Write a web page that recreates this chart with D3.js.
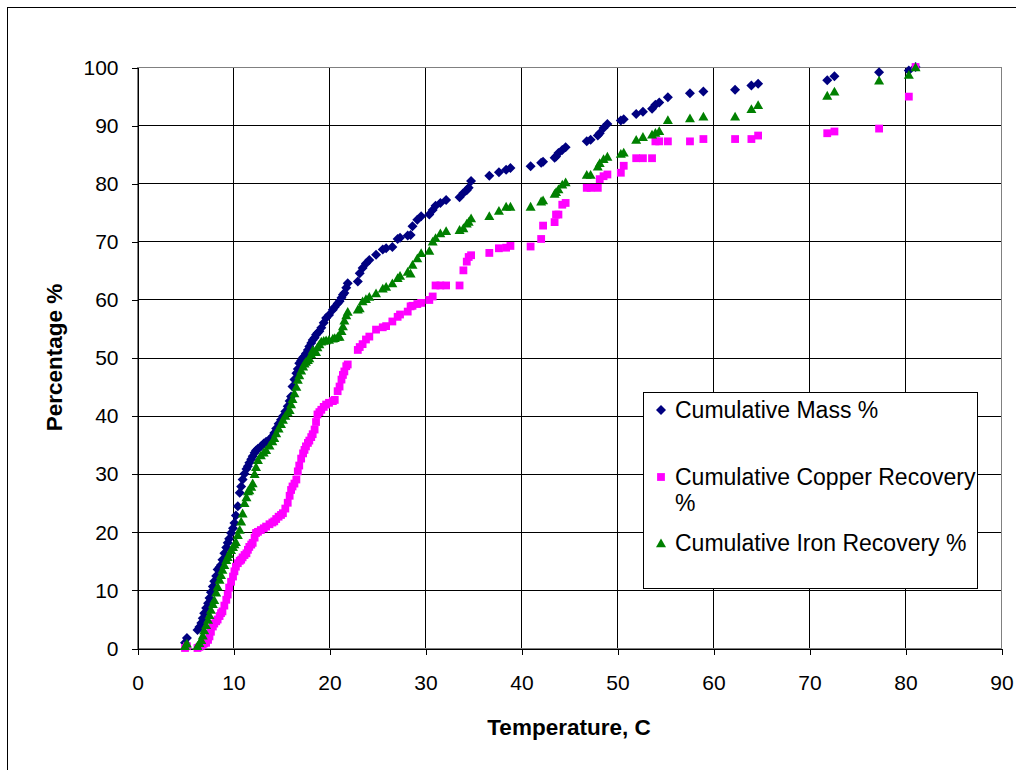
<!DOCTYPE html>
<html>
<head>
<meta charset="utf-8">
<script src="https://cdn.jsdelivr.net/npm/d3@7"></script>
<style>
  html, body { margin: 0; padding: 0; background: #fff; }
  svg { display: block; font-family: "Liberation Sans", Arial, sans-serif; }
</style>
</head>
<body>
<svg id="chart" width="1016" height="770"></svg>
<script>
// Sample temperatures (deg C) shared by all three cumulative series
const temps = [
  5.0, 5.2, 6.3, 6.5, 6.7, 6.85, 7.0, 7.2, 7.4, 7.55, 7.7, 7.9, 8.05, 8.25, 8.4, 8.6, 8.75, 8.9,
  9.1, 9.3, 9.45, 9.6, 9.8, 10.0, 10.15, 10.3, 10.5, 10.7, 10.85, 11.0, 11.2, 11.4, 11.55, 11.7,
  11.9, 12.05, 12.25, 12.4, 12.6, 12.9, 13.2, 13.45, 13.8, 14.1, 14.3, 14.5, 14.75, 15.0, 15.2,
  15.45, 15.7, 15.9, 16.05, 16.2, 16.4, 16.6, 16.75, 16.9, 17.1, 17.3, 17.45, 17.6, 17.8, 17.95,
  18.15, 18.3, 18.5, 18.65, 18.8, 19.0, 19.2, 19.45, 19.7, 20.0, 20.4, 20.6, 20.9, 21.1, 21.3,
  21.45, 21.6, 21.8, 21.95, 23.0, 23.2, 23.5, 23.85, 24.2, 24.9, 25.6, 25.95, 26.6, 27.15, 27.4,
  28.2, 28.5, 28.7, 29.2, 29.6, 30.45, 30.8, 31.1, 31.6, 32.2, 33.6, 34.0, 34.35, 34.55, 34.8,
  36.7, 37.7, 38.45, 38.9, 41.0, 42.1, 42.3, 43.5, 43.65, 43.9, 44.3, 44.65, 46.85, 47.25, 48.0,
  48.2, 48.6, 49.0, 50.4, 50.7, 52.0, 52.7, 53.65, 54.0, 54.4, 55.3, 57.6, 59.0, 62.3, 64.0, 64.7,
  71.9, 72.65, 77.3, 80.4, 81.1
];

const massPct = [
  0.9, 1.7, 3.1, 3.6, 4.3, 5.1, 6.0, 6.9, 7.7, 8.6, 9.6, 10.6, 11.5, 12.4, 13.5, 13.9, 14.3, 15.2,
  16.3, 17.3, 18.1, 18.8, 19.8, 20.6, 21.5, 22.8, 24.4, 26.7, 27.8, 29.0, 30.0, 30.8, 31.3, 31.9,
  32.5, 33.0, 33.6, 34.0, 34.3, 34.7, 35.2, 35.5, 35.9, 36.4, 37.0, 37.8, 38.6, 39.3, 39.9,
  40.7, 41.6, 42.5, 43.3, 45.0, 46.2, 47.3, 48.0, 49.0, 49.5, 50.0, 50.2, 50.7, 51.3, 51.9,
  52.5, 53.0, 53.4, 53.9, 54.2, 54.5, 55.1, 56.0, 56.8, 57.3, 58.2, 58.7, 59.3, 59.7, 60.3,
  60.8, 61.1, 62.0, 62.8, 63.1, 64.5, 65.4, 66.2, 66.8, 67.7, 68.6, 68.8, 69.0, 70.4, 70.6,
  71.0, 71.1, 72.6, 73.7, 74.3, 74.6, 75.4, 76.1, 76.6, 77.1, 77.6, 78.3, 78.8, 79.2, 80.4,
  81.3, 81.9, 82.3, 82.6, 82.9, 83.5, 83.7, 84.4, 84.6, 85.2, 85.7, 86.2, 87.2, 87.5, 88.2,
  88.6, 89.5, 90.2, 90.8, 91.0, 91.9, 92.3, 92.8, 93.5, 93.9, 94.8, 95.5, 95.8, 96.1, 96.8, 97.1,
  97.7, 98.4, 99.1, 99.4, 100
];

const copperPct = [
  0.0, 0.3, 0.0, 0.2, 0.4, 0.6, 0.8, 0.9, 1.4, 2.0, 2.8, 3.7, 4.2, 4.6, 4.9, 5.5, 6.0, 6.3,
  7.3, 8.3, 9.2, 10.4, 11.4, 12.3, 13.2, 14.0, 14.6, 15.0, 15.2, 15.6, 16.0, 16.3, 16.9, 17.4,
  17.8, 18.1, 19.0, 19.8, 20.0, 20.3, 20.6, 20.9, 21.3, 21.6, 21.8, 22.2, 22.6, 22.9, 23.2,
  24.0, 25.0, 26.2, 27.2, 27.8, 28.3, 29.0, 30.4, 31.4, 32.6, 33.5, 34.1, 34.7, 35.3, 35.7,
  36.3, 36.8, 37.6, 38.9, 40.2, 40.6, 41.0, 41.5, 41.9, 42.2, 42.5, 42.7, 44.2, 45.0, 46.2,
  47.0, 47.6, 48.5, 48.8, 51.3, 51.8, 52.3, 53.1, 53.6, 54.8, 55.2, 55.4, 56.2, 57.0, 57.4,
  57.9, 58.8, 58.9, 59.2, 59.4, 59.9, 60.5, 62.4, 62.4, 62.4, 62.4, 65.0, 66.5, 67.3, 67.6,
  68.0, 68.8, 68.9, 69.2, 69.1, 70.4, 72.7, 73.3, 74.6, 74.6, 76.3, 76.6, 79.2, 79.2, 79.2,
  80.7, 81.2, 81.5, 81.8, 83.0, 84.3, 84.3, 84.3, 87.2, 87.2, 87.2, 87.2, 87.6, 87.6, 87.6, 88.2,
  88.6, 88.9, 89.4, 94.9, 100
];

const ironPct = [
  0.4, 0.8, 0.4, 0.9, 1.4, 2.2, 3.1, 4.0, 4.9, 5.7, 6.6, 7.6, 8.3, 9.6, 10.6, 11.8, 12.6, 13.5,
  14.3, 15.2, 15.7, 16.2, 16.9, 17.4, 17.9, 18.3, 19.5, 20.4, 21.8, 23.2, 25.0, 26.0, 27.0, 27.2,
  27.8, 28.4, 30.0, 31.2, 32.4, 33.2, 33.7, 34.1, 34.9, 35.6, 36.2, 37.0, 37.8, 38.6, 39.3,
  40.0, 40.6, 41.0, 42.0, 42.9, 43.9, 45.0, 46.2, 47.0, 47.8, 48.5, 49.0, 49.3, 49.6, 49.9,
  50.6, 51.3, 51.0, 51.0, 51.8, 52.3, 52.8, 52.9, 53.0, 53.1, 53.3, 53.4, 53.6, 53.6, 54.6,
  55.4, 56.4, 57.3, 57.9, 58.3, 58.5, 59.7, 60.1, 60.5, 61.1, 61.9, 62.2, 62.8, 63.7, 64.1,
  64.8, 64.5, 66.0, 67.1, 68.0, 68.4, 70.0, 70.6, 71.4, 71.8, 72.0, 72.3, 73.1, 73.4, 74.0,
  74.4, 75.3, 76.0, 76.0, 76.0, 76.9, 77.1, 78.2, 78.5, 79.0, 79.8, 80.2, 81.5, 81.5, 82.9,
  83.5, 84.2, 84.6, 85.1, 85.3, 87.5, 88.0, 88.4, 88.7, 89.0, 90.9, 91.2, 91.5, 91.5, 92.8, 93.5,
  95.1, 95.8, 97.7, 98.7, 100
];

const seriesNames = ["Cumulative Mass %", "Cumulative Copper Recovery %", "Cumulative Iron Recovery %"];
const seriesColors = ["#000080", "#FF00FF", "#008000"];
const seriesShapes = ["diamond", "square", "triangle"];

const xTicks = [0, 10, 20, 30, 40, 50, 60, 70, 80, 90];
const yTicks = [0, 10, 20, 30, 40, 50, 60, 70, 80, 90, 100];

const xTitle = "Temperature, C";
const yTitle = "Percentage %";

// ---- layout ----
const plot = { left: 137, right: 1001, top: 67, bottom: 648 };

const svg = d3.select("#chart");

// chart area frame
svg.append("rect")
  .attr("x", 7.5).attr("y", 7.5)
  .attr("width", 1040).attr("height", 800)
  .attr("fill", "#fff").attr("stroke", "#000").attr("stroke-width", 1);

const x = d3.scaleLinear().domain([0, 90]).range([plot.left, plot.right]);
const y = d3.scaleLinear().domain([0, 100]).range([plot.bottom, plot.top]);

// gridlines
const grid = svg.append("g").attr("shape-rendering", "crispEdges");
grid.selectAll("line.h").data(yTicks).join("line")
  .attr("x1", plot.left).attr("x2", plot.right)
  .attr("y1", d => Math.round(y(d)) + 0.5).attr("y2", d => Math.round(y(d)) + 0.5)
  .attr("stroke", "#000").attr("stroke-width", 1);
grid.selectAll("line.v").data(xTicks).join("line")
  .attr("y1", plot.top).attr("y2", plot.bottom)
  .attr("x1", d => Math.round(x(d)) + 0.5).attr("x2", d => Math.round(x(d)) + 0.5)
  .attr("stroke", "#000").attr("stroke-width", 1);

// plot area border
svg.append("rect")
  .attr("x", plot.left + 0.5).attr("y", plot.top + 0.5)
  .attr("width", plot.right - plot.left).attr("height", plot.bottom - plot.top)
  .attr("fill", "none").attr("stroke", "#808080").attr("shape-rendering", "crispEdges");

// axes
const fontSize = 21;
const xAxis = svg.append("g")
  .attr("transform", `translate(0.5,${plot.bottom + 0.5})`)
  .call(d3.axisBottom(x).tickValues(xTicks).tickSize(6).tickPadding(21).tickSizeOuter(0).tickFormat(d3.format("d")));
const yAxis = svg.append("g")
  .attr("transform", `translate(${plot.left + 0.5},0.5)`)
  .call(d3.axisLeft(y).tickValues(yTicks).tickSize(6).tickPadding(13).tickSizeOuter(0).tickFormat(d3.format("d")));

[xAxis, yAxis].forEach(a => {
  a.attr("shape-rendering", "crispEdges");
  a.select(".domain").attr("stroke", "#000");
  a.selectAll(".tick line").attr("stroke", "#000");
  a.selectAll(".tick text")
    .attr("fill", "#000")
    .style("font-family", "'Liberation Sans', Arial, sans-serif")
    .style("font-size", fontSize + "px");
});

// axis titles
svg.append("text")
  .attr("x", (plot.left + plot.right) / 2).attr("y", 735)
  .attr("text-anchor", "middle")
  .style("font-size", "22.5px").style("font-weight", "bold")
  .text(xTitle);
svg.append("text")
  .attr("transform", `translate(62,${(plot.top + plot.bottom) / 2}) rotate(-90)`)
  .attr("text-anchor", "middle")
  .style("font-size", "22.5px").style("font-weight", "bold")
  .text(yTitle);

// marker shapes
function markerPath(shape) {
  if (shape === "diamond") return "M0,-5L5,0L0,5L-5,0Z";
  if (shape === "square") return "M-3.9,-3.9H3.9V3.9H-3.9Z";
  return "M0,-4.6L5,4.2H-5Z";
}

const seriesValues = [massPct, copperPct, ironPct];

seriesValues.forEach((vals, i) => {
  const pts = temps.map((t, k) => [t, vals[k]]);
  svg.append("g")
    .selectAll("path")
    .data(pts)
    .join("path")
    .attr("d", markerPath(seriesShapes[i]))
    .attr("transform", d => `translate(${x(d[0])},${y(d[1])})`)
    .attr("fill", seriesColors[i]);
});

// legend
const legend = svg.append("g");
legend.append("rect")
  .attr("x", 643.5).attr("y", 392.5).attr("width", 334).attr("height", 196)
  .attr("fill", "#fff").attr("stroke", "#000").attr("shape-rendering", "crispEdges");

const legendRows = [
  { lines: ["Cumulative Mass %"], y: 410 },
  { lines: ["Cumulative Copper Recovery", "%"], y: 477 },
  { lines: ["Cumulative Iron Recovery %"], y: 543 }
];
legendRows.forEach((r, i) => {
  legend.append("path")
    .attr("d", markerPath(seriesShapes[i]))
    .attr("transform", `translate(661,${r.y})`)
    .attr("fill", seriesColors[i]);
  const t = legend.append("text")
    .attr("x", 675).attr("y", r.y + 8)
    .style("font-size", "23px").attr("fill", "#000");
  r.lines.forEach((ln, j) => {
    t.append("tspan").attr("x", 675).attr("dy", j === 0 ? 0 : 26).text(ln);
  });
});
</script>
</body>
</html>
